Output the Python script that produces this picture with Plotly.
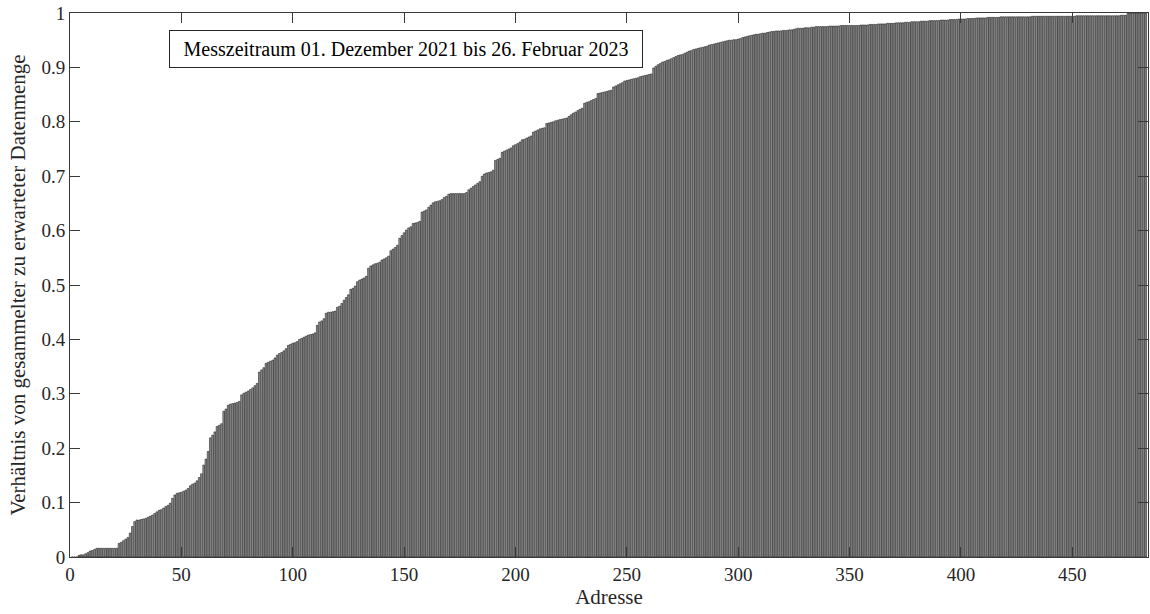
import plotly.graph_objects as go

# Ratio of collected to expected data volume per address (sorted ascending)
ratio = [
    0, 0, 0, 0.003, 0.004, 0.004, 0.006, 0.008, 0.011, 0.012,                 # 1-10
    0.014, 0.016, 0.016, 0.016, 0.016, 0.016, 0.016, 0.016, 0.016, 0.016,     # 11-20
    0.016, 0.025, 0.027, 0.030, 0.033, 0.036, 0.044, 0.056, 0.065, 0.068,     # 21-30
    0.068, 0.069, 0.070, 0.071, 0.073, 0.075, 0.077, 0.080, 0.083, 0.086,     # 31-40
    0.087, 0.090, 0.093, 0.095, 0.099, 0.108, 0.114, 0.117, 0.118, 0.119,     # 41-50
    0.121, 0.123, 0.126, 0.131, 0.134, 0.136, 0.140, 0.146, 0.153, 0.169,     # 51-60
    0.180, 0.194, 0.219, 0.224, 0.230, 0.240, 0.242, 0.245, 0.268, 0.272,     # 61-70
    0.279, 0.281, 0.282, 0.283, 0.284, 0.286, 0.298, 0.301, 0.303, 0.305,     # 71-80
    0.308, 0.311, 0.315, 0.319, 0.340, 0.344, 0.348, 0.356, 0.358, 0.360,     # 81-90
    0.362, 0.366, 0.371, 0.374, 0.376, 0.379, 0.383, 0.389, 0.391, 0.393,     # 91-100
    0.394, 0.396, 0.400, 0.402, 0.404, 0.406, 0.408, 0.409, 0.410, 0.412,     # 101-110
    0.426, 0.432, 0.434, 0.438, 0.448, 0.450, 0.450, 0.451, 0.452, 0.459,     # 111-120
    0.461, 0.466, 0.472, 0.477, 0.482, 0.492, 0.494, 0.498, 0.506, 0.509,     # 121-130
    0.511, 0.513, 0.516, 0.531, 0.535, 0.537, 0.539, 0.540, 0.542, 0.546,     # 131-140
    0.548, 0.550, 0.553, 0.563, 0.566, 0.569, 0.573, 0.586, 0.591, 0.596,     # 141-150
    0.601, 0.605, 0.607, 0.613, 0.614, 0.615, 0.617, 0.634, 0.636, 0.638,     # 151-160
    0.643, 0.647, 0.651, 0.653, 0.654, 0.655, 0.657, 0.661, 0.663, 0.667,     # 161-170
    0.668, 0.668, 0.668, 0.668, 0.668, 0.668, 0.668, 0.670, 0.675, 0.678,     # 171-180
    0.681, 0.684, 0.687, 0.690, 0.700, 0.704, 0.706, 0.707, 0.708, 0.711,     # 181-190
    0.729, 0.731, 0.733, 0.744, 0.746, 0.748, 0.750, 0.752, 0.756, 0.758,     # 191-200
    0.760, 0.763, 0.767, 0.768, 0.770, 0.772, 0.774, 0.781, 0.783, 0.785,     # 201-210
    0.787, 0.788, 0.789, 0.797, 0.798, 0.799, 0.800, 0.802, 0.803, 0.804,     # 211-220
    0.805, 0.806, 0.807, 0.810, 0.813, 0.816, 0.818, 0.821, 0.823, 0.825,     # 221-230
    0.834, 0.836, 0.837, 0.839, 0.841, 0.843, 0.852, 0.853, 0.854, 0.855,     # 231-240
    0.856, 0.857, 0.858, 0.864, 0.866, 0.868, 0.870, 0.872, 0.875, 0.876,     # 241-250
    0.877, 0.878, 0.879, 0.880, 0.881, 0.883, 0.884, 0.885, 0.886, 0.887,     # 251-260
    0.888, 0.899, 0.902, 0.905, 0.907, 0.910, 0.911, 0.913, 0.914, 0.916,     # 261-270
    0.918, 0.920, 0.922, 0.923, 0.924, 0.926, 0.928, 0.930, 0.931, 0.933,     # 271-280
    0.934, 0.935, 0.936, 0.937, 0.938, 0.939, 0.941, 0.942, 0.943, 0.944,     # 281-290
    0.945, 0.946, 0.947, 0.948, 0.949, 0.950, 0.950, 0.951, 0.951, 0.952,     # 291-300
    0.953, 0.955, 0.956, 0.957, 0.958, 0.959, 0.960, 0.961, 0.961, 0.962,     # 301-310
    0.963, 0.963, 0.964, 0.965, 0.966, 0.966, 0.967, 0.967, 0.967, 0.968,     # 311-320
    0.968, 0.968, 0.969, 0.969, 0.970, 0.971, 0.972, 0.972, 0.972, 0.973,     # 321-330
    0.973, 0.973, 0.974, 0.974, 0.975, 0.975, 0.975, 0.975, 0.975, 0.975,     # 331-340
    0.976, 0.976, 0.976, 0.976, 0.976, 0.977, 0.977, 0.977, 0.977, 0.977,     # 341-350
    0.977, 0.977, 0.977, 0.977, 0.978, 0.978, 0.978, 0.978, 0.979, 0.979,     # 351-360
    0.979, 0.979, 0.980, 0.980, 0.980, 0.980, 0.981, 0.981, 0.981, 0.981,     # 361-370
    0.982, 0.982, 0.982, 0.982, 0.983, 0.983, 0.983, 0.984, 0.984, 0.984,     # 371-380
    0.984, 0.985, 0.985, 0.985, 0.985, 0.986, 0.986, 0.986, 0.986, 0.986,     # 381-390
    0.987, 0.987, 0.987, 0.987, 0.988, 0.988, 0.988, 0.988, 0.989, 0.989,     # 391-400
    0.989, 0.989, 0.990, 0.990, 0.990, 0.990, 0.991, 0.991, 0.991, 0.991,     # 401-410
    0.991, 0.992, 0.992, 0.992, 0.992, 0.992, 0.992, 0.993, 0.993, 0.993,     # 411-420
    0.993, 0.993, 0.993, 0.993, 0.993, 0.993, 0.993, 0.993, 0.993, 0.993,     # 421-430
    0.993, 0.994, 0.994, 0.994, 0.994, 0.994, 0.994, 0.994, 0.994, 0.994,     # 431-440
    0.994, 0.994, 0.994, 0.994, 0.994, 0.994, 0.994, 0.994, 0.994, 0.994,     # 441-450
    0.994, 0.995, 0.995, 0.995, 0.995, 0.995, 0.995, 0.995, 0.995, 0.995,     # 451-460
    0.995, 0.995, 0.995, 0.995, 0.995, 0.995, 0.995, 0.995, 0.995, 0.995,     # 461-470
    0.995, 0.996, 0.996, 0.996, 1.0, 1.0, 1.0, 1.0, 1.0, 1.0,                 # 471-480
    1.0, 1.0, 1.0,                                                            # 481-483
]
addresses = list(range(1, len(ratio) + 1))

x_ticks = [0, 50, 100, 150, 200, 250, 300, 350, 400, 450]
y_ticks = [0, 0.1, 0.2, 0.3, 0.4, 0.5, 0.6, 0.7, 0.8, 0.9, 1]
y_tick_text = ["0", "0.1", "0.2", "0.3", "0.4", "0.5", "0.6", "0.7", "0.8", "0.9", "1"]

SERIF = "Liberation Serif, Times New Roman, serif"
AXIS_COLOR = "#3a3a3a"
TEXT_COLOR = "#262626"

fig = go.Figure(
    go.Bar(
        x=addresses,
        y=ratio,
        marker=dict(color="#9a9a9a", line=dict(color="#000000", width=0.5)),
        width=0.75,
        showlegend=False,
    )
)

fig.update_layout(
    width=1150,
    height=614,
    margin=dict(l=70, r=2, t=13, b=57),
    paper_bgcolor="white",
    plot_bgcolor="white",
    font=dict(family=SERIF, size=19, color=TEXT_COLOR),
    xaxis=dict(
        range=[0, 484],
        tickmode="array",
        tickvals=x_ticks,
        ticks="inside",
        ticklen=10,
        tickcolor=AXIS_COLOR,
        showline=True,
        linecolor=AXIS_COLOR,
        linewidth=1,
        mirror="ticks",
        showgrid=False,
        zeroline=False,
        title=dict(text="Adresse", font=dict(family=SERIF, size=21, color=TEXT_COLOR), standoff=2),
        tickfont=dict(family=SERIF, size=19, color=TEXT_COLOR),
    ),
    yaxis=dict(
        range=[0, 1],
        tickmode="array",
        tickvals=y_ticks,
        ticktext=y_tick_text,
        ticks="inside",
        ticklen=10,
        tickcolor=AXIS_COLOR,
        showline=True,
        linecolor=AXIS_COLOR,
        linewidth=1,
        mirror="ticks",
        showgrid=False,
        zeroline=False,
        title=dict(
            text="Verhältnis von gesammelter zu erwarteter Datenmenge",
            font=dict(family=SERIF, size=21, color=TEXT_COLOR),
            standoff=10,
        ),
        tickfont=dict(family=SERIF, size=19, color=TEXT_COLOR),
    ),
    annotations=[
        dict(
            text="Messzeitraum 01. Dezember 2021 bis 26. Februar 2023",
            xref="paper",
            yref="paper",
            x=0.3115,
            y=0.934,
            xanchor="center",
            yanchor="middle",
            showarrow=False,
            align="center",
            width=470,
            height=34,
            bgcolor="white",
            bordercolor=TEXT_COLOR,
            borderwidth=1,
            borderpad=1,
            font=dict(family=SERIF, size=20, color="black"),
        )
    ],
)

fig.write_html("out.html")
